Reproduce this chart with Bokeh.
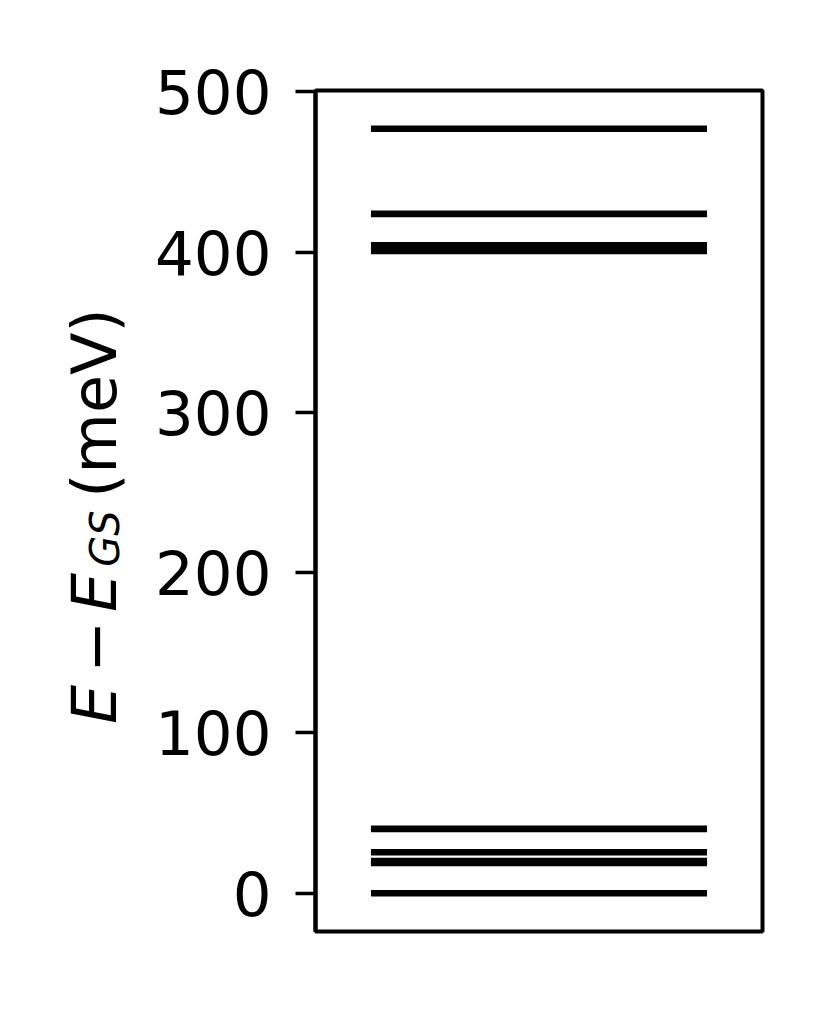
import math
from bokeh.plotting import figure
from bokeh.layouts import row
from bokeh.models import Range1d, FixedTicker, Label
from bokeh.embed import file_html
from bokeh.resources import INLINE

# Energy levels E - E_GS (meV)
levels = [0.0, 19.0, 20.1, 25.6, 40.2, 400.7, 404.2, 423.9, 477.0]
level_xmin = [0.0] * len(levels)
level_xmax = [1.0] * len(levels)
y_ticks = [0, 100, 200, 300, 400, 500]

H = 1003
LW = 140            # width of the strip holding the y-axis title
W = 812 - LW
BL, BR, BT, BB = 315 - LW, 50, 90, 72
x0, x1 = -0.165, 1.165
y0, y1 = -23.85, 500.85

p = figure(width=W, height=H, output_backend="svg", toolbar_location=None,
           x_range=Range1d(x0, x1), y_range=Range1d(y0, y1),
           min_border_left=BL, min_border_right=BR, min_border_top=BT, min_border_bottom=BB)
p.background_fill_color = "white"
p.border_fill_color = "white"
p.grid.visible = False
p.xaxis.visible = False
p.outline_line_color = "black"
p.outline_line_width = 4

ya = p.yaxis[0]
ya.ticker = FixedTicker(ticks=y_ticks)
ya.axis_line_color = "black"
ya.axis_line_width = 4
ya.major_tick_line_color = "black"
ya.major_tick_line_width = 3.5
ya.major_tick_out = 20
ya.major_tick_in = 0
ya.minor_tick_line_color = None
ya.major_label_text_font = "DejaVu Sans"
ya.major_label_text_font_size = "61px"
ya.major_label_text_color = "black"
ya.major_label_standoff = 24

p.segment(x0=level_xmin, x1=level_xmax, y0=levels, y1=levels,
          line_color="black", line_width=6.7, line_cap="butt")

# strip for the rich y-axis title; its frame lines up with the main frame,
# so the y range is expressed in page pixels (top 90 .. bottom 931)
t = figure(width=LW, height=H, output_backend="svg", toolbar_location=None,
           x_range=Range1d(0, LW), y_range=Range1d(H - BB, BT),
           min_border_left=0, min_border_right=0, min_border_top=BT, min_border_bottom=BB)
t.axis.visible = False
t.grid.visible = False
t.outline_line_color = None
t.background_fill_color = "white"
t.border_fill_color = "white"

# (text, baseline x, centre along the text, font px, style)
pieces = [
    ("E", 115, 704, 62, "italic"),
    ("\u2212", 115, 646, 62, "normal"),
    ("E", 115, 592, 62, "italic"),
    ("GS", 118, 538, 40, "italic"),
    ("(meV)", 115, 402.5, 62, "normal"),
]
for txt, bx, cy, fs, st in pieces:
    t.add_layout(Label(x=bx - 0.346 * fs, y=cy, text=txt, angle=math.pi / 2,
                       text_font="DejaVu Sans", text_font_size=f"{fs}px", text_font_style=st,
                       text_color="black", text_align="center", text_baseline="middle"))

layout = row(t, p, spacing=0)
open("out.html", "w").write(file_html(layout, INLINE))
